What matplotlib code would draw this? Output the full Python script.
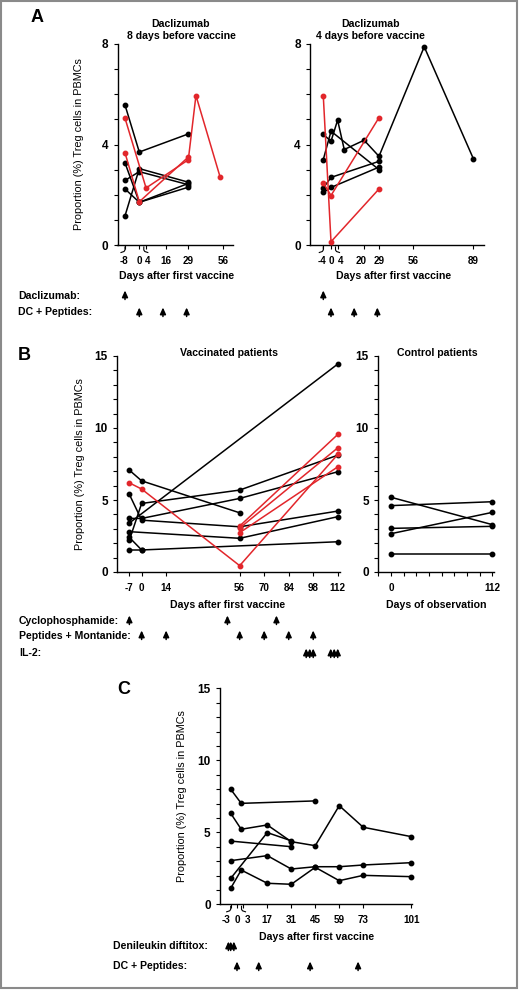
import numpy as np
import matplotlib
matplotlib.use("Agg")
import matplotlib.pyplot as plt
import matplotlib.transforms as mtransforms
from matplotlib.lines import Line2D
from matplotlib.patches import Rectangle
from matplotlib.ticker import MultipleLocator, FixedLocator

plt.rcParams['font.family'] = ['Liberation Sans', 'DejaVu Sans']
plt.rcParams['axes.unicode_minus'] = False

W, H = 520, 992
RED = '#e2262b'

# ---- Panel A, left: daclizumab 8 days before vaccine
a1_black_days = [[-8, 0, 29], [-8, 0, 29], [-8, 0, 29], [-8, 0, 29], [-8, 0, 29]]
a1_black_vals = [[5.57, 3.70, 4.42], [3.27, 1.70, 2.45], [2.57, 2.92, 2.40],
                 [2.23, 1.70, 2.30], [1.16, 3.04, 2.50]]
a1_red_days = [[-8, 4, 29, 35, 54], [-8, 0, 29]]
a1_red_vals = [[5.05, 2.27, 3.39, 5.95, 2.70], [3.67, 1.72, 3.50]]
a1_ticks = [-8, 0, 4, 16, 29, 56]

# ---- Panel A, right: daclizumab 4 days before vaccine
a2_black_days = [[-4, 0, 4, 8, 20, 29, 62, 89], [-4, 0, 29], [-4, 0, 29], [-4, 0, 29]]
a2_black_vals = [[4.40, 4.13, 4.97, 3.80, 4.17, 3.53, 7.89, 3.44],
                 [3.40, 4.53, 3.00], [2.27, 2.69, 3.33], [2.09, 2.29, 3.10]]
a2_red_days = [[-4, 0, 29], [-4, 0, 29]]
a2_red_vals = [[5.93, 0.13, 2.23], [2.47, 1.97, 5.07]]
a2_ticks = [-4, 0, 4, 20, 29, 56, 89]

# ---- Panel B, vaccinated patients
b1_black_days = [[-7, 0, 56], [-7, 0, 56, 112], [-7, 0, 56, 112], [-7, 0, 56, 112],
                 [-7, 56, 112], [-7, 112], [-7, 0, 112], [-7, 0]]
b1_black_vals = [[7.07, 6.33, 4.11], [5.39, 3.60, 3.14, 4.23], [2.22, 4.76, 5.69, 8.11],
                 [3.72, 3.72, 5.11, 6.96], [2.80, 2.34, 3.84], [3.40, 14.44],
                 [2.40, 1.53, 2.10], [1.53, 1.53]]
b1_red_days = [[-7, 0, 56, 112], [56, 112], [56, 112], [56, 112]]
b1_red_vals = [[6.19, 5.76, 0.44, 8.16], [3.19, 9.55], [3.05, 8.62], [2.73, 7.30]]
b1_ticks = [-7, 0, 14, 56, 70, 84, 98, 112]

# ---- Panel B, control patients
b2_days = [0, 112]
b2_vals = [[5.19, 3.29], [4.61, 4.88], [3.03, 3.17], [2.66, 4.14], [1.25, 1.25]]

# ---- Panel C, denileukin diftitox
c_days = [[-3, 2, 45], [-3, 2, 17, 31, 45, 59, 73, 101], [-3, 31], [-3, 17, 31],
          [-3, 17, 31, 45, 59, 73, 101], [-3, 2, 17, 31, 45, 59, 73, 101]]
c_vals = [[7.99, 7.01, 7.18], [6.32, 5.21, 5.51, 4.35, 4.07, 6.85, 5.35, 4.70],
          [4.39, 4.00], [1.80, 4.98, 4.41], [3.03, 3.38, 2.45, 2.61, 2.61, 2.73, 2.89],
          [1.11, 2.38, 1.46, 1.39, 2.57, 1.64, 2.01, 1.92]]
c_ticks = [-3, 0, 3, 17, 31, 45, 59, 73, 101]

# treatment schedules (days)
a1_dacl = [-8]
a2_dacl = [-4]
a_dc = [0, 14, 28]
b_cyclo = [-7, 49, 77]
b_montanide = [0, 14, 56, 70, 84, 98]
b_il2 = [94, 96, 98, 108, 110, 112]
c_denileukin = [-4.5, -3, -1.5]
c_dc = [0, 12, 42, 70]


def rect(x0, y0, x1, y1):
    return [x0 / W, 1 - y1 / H, (x1 - x0) / W, (y1 - y0) / H]


def ftext(x, y, s, **kw):
    kw.setdefault('ha', 'center')
    kw.setdefault('va', 'center')
    fig.text(x / W, 1 - y / H, s, **kw)


def piecewise(days, pos):
    def fwd(x):
        return np.interp(x, days, pos)

    def inv(y):
        return np.interp(y, pos, days)
    return fwd, inv


def style(ax, ymax, ymajor):
    for s in ['top', 'right']:
        ax.spines[s].set_visible(False)
    for s in ['left', 'bottom']:
        ax.spines[s].set_linewidth(1.0)
    ax.set_ylim(0, ymax)
    ax.yaxis.set_major_locator(FixedLocator(ymajor))
    ax.yaxis.set_minor_locator(MultipleLocator(1))
    ax.tick_params(which='both', direction='out', length=3.2, width=0.8)
    ax.tick_params(axis='y', labelsize=8.5, pad=3.5)
    ax.tick_params(axis='x', labelsize=7.1, pad=4.4)
    for t in ax.get_yticklabels():
        t.set_fontweight('bold')


def set_xticks(ax, ticks, shifts=None):
    # tick marks at the days; some labels nudged sideways (px) as in the original
    # (call after style(): tick_params resets the label transforms)
    ax.set_xticks(ticks)
    ax.set_xticklabels([str(t) for t in ticks], fontweight='bold')
    shifts = shifts or {}
    for t, tick in zip(ticks, ax.xaxis.get_major_ticks()):
        if t in shifts:
            off = mtransforms.ScaledTranslation(shifts[t] / 100, 0, fig.dpi_scale_trans)
            tick.label1.set_transform(tick.label1.get_transform() + off)


def draw(ax, days_list, vals_list, color):
    for d, v in zip(days_list, vals_list):
        ax.plot(d, v, '-o', color=color, lw=1.1, ms=3.2, clip_on=False, zorder=3)


def arrows(ax, days, y_px, n_len=9):
    tr = mtransforms.blended_transform_factory(ax.transData, fig.transFigure)
    for d in days:
        ax.annotate('', xy=(d, 1 - (y_px - n_len / 2) / H), xytext=(d, 1 - (y_px + n_len / 2) / H),
                    xycoords=tr, textcoords=tr, annotation_clip=False,
                    arrowprops=dict(arrowstyle='-|>,head_length=0.55,head_width=0.25',
                                    color='black', lw=1.1, mutation_scale=7,
                                    shrinkA=0, shrinkB=0))


def hooks(ax, first_day, zero_day):
    # small axis-break marks under the x axis
    p1 = ax.transData.transform((first_day, 0.0))
    p2 = ax.transData.transform((zero_day, 0.0))
    v1 = [(0, -2), (0, -5), (-1, -6.5), (-4, -7.5)]
    v2 = [(4.5, -2), (4.5, -5), (5.5, -6.5), (8.5, -7.5)]
    for p, v in [(p1, v1), (p2, v2)]:
        fig.add_artist(Line2D([p[0] + a for a, b in v], [p[1] + b for a, b in v],
                              transform=mtransforms.IdentityTransform(), color='black', lw=0.8))


fig = plt.figure(figsize=(W / 100, H / 100), dpi=100)

# ---------------- Panel A left
ax = fig.add_axes(rect(117.5, 44, 233.3, 245))
f, i = piecewise([-12, -8, 0, 29, 56, 63], [117.5, 125, 139.3, 188.3, 222.7, 233.3])
ax.set_xscale('function', functions=(f, i))
ax.set_xlim(-12, 63)
style(ax, 8, [0, 4, 8])
set_xticks(ax, a1_ticks, {-8: -1, 4: 1.5})
draw(ax, a1_black_days, a1_black_vals, 'black')
draw(ax, a1_red_days, a1_red_vals, RED)
hooks(ax, -8, 0)
arrows(ax, a1_dacl, 295)
arrows(ax, a_dc, 312)

# ---------------- Panel A right
ax = fig.add_axes(rect(310, 44, 484, 245))
f, i = piecewise([-10, -4, 0, 29, 56, 89, 95], [310, 323.3, 331, 379, 413.3, 473.3, 484])
ax.set_xscale('function', functions=(f, i))
ax.set_xlim(-10, 95)
style(ax, 8, [0, 4, 8])
set_xticks(ax, a2_ticks, {-4: -1, 4: 3, 20: -3})
draw(ax, a2_black_days, a2_black_vals, 'black')
draw(ax, a2_red_days, a2_red_vals, RED)
hooks(ax, -4, 0)
arrows(ax, a2_dacl, 295)
arrows(ax, a_dc, 312)

ftext(181, 30, 'Daclizumab\n8 days before vaccine', fontsize=7.6, fontweight='bold', linespacing=1.15)
ftext(370, 30, 'Daclizumab\n4 days before vaccine', fontsize=7.6, fontweight='bold', linespacing=1.15)
ftext(177, 276, 'Days after first vaccine', fontsize=7.6, fontweight='bold')
ftext(394, 276, 'Days after first vaccine', fontsize=7.6, fontweight='bold')
ftext(79, 144, 'Proportion (%) Treg cells in PBMCs', fontsize=7.8, rotation=90)
ftext(18, 296, 'Daclizumab:', fontsize=7.6, fontweight='bold', ha='left')
ftext(18, 312, 'DC + Peptides:', fontsize=7.6, fontweight='bold', ha='left')
ftext(37, 18, 'A', fontsize=13, fontweight='bold')

# ---------------- Panel B left
ax = fig.add_axes(rect(117.3, 356, 340, 572))
ax.set_xlim(-13.9, 113.3)
style(ax, 15, [0, 5, 10, 15])
set_xticks(ax, b1_ticks)
draw(ax, b1_black_days, b1_black_vals, 'black')
draw(ax, b1_red_days, b1_red_vals, RED)
arrows(ax, b_cyclo, 620)
arrows(ax, b_montanide, 635)
arrows(ax, b_il2, 653)

# ---------------- Panel B right
ax = fig.add_axes(rect(378.3, 356, 493.5, 572))
ax.set_xlim(-14, 113.4)
ax.xaxis.set_minor_locator(MultipleLocator(14))
style(ax, 15, [0, 5, 10, 15])
set_xticks(ax, b2_days)
for v in b2_vals:
    ax.plot(b2_days, v, '-o', color='black', lw=1.1, ms=3.2, clip_on=False, zorder=3)

ftext(229, 353, 'Vaccinated patients', fontsize=7.6, fontweight='bold')
ftext(437, 353, 'Control patients', fontsize=7.6, fontweight='bold')
ftext(228, 605, 'Days after first vaccine', fontsize=7.6, fontweight='bold')
ftext(436, 605, 'Days of observation', fontsize=7.6, fontweight='bold')
ftext(80, 464, 'Proportion (%) Treg cells in PBMCs', fontsize=7.8, rotation=90)
ftext(19, 621, 'Cyclophosphamide:', fontsize=7.6, fontweight='bold', ha='left')
ftext(19, 636, 'Peptides + Montanide:', fontsize=7.6, fontweight='bold', ha='left')
ftext(19, 653, 'IL-2:', fontsize=7.6, fontweight='bold', ha='left')
ftext(24, 355, 'B', fontsize=13, fontweight='bold')

# ---------------- Panel C
ax = fig.add_axes(rect(220, 688.3, 412, 904.3))
f, i = piecewise([-10, -3, 3, 101, 101.5], [220, 230.7, 243.3, 411.2, 412])
ax.set_xscale('function', functions=(f, i))
ax.set_xlim(-10, 101.5)
style(ax, 15, [0, 5, 10, 15])
set_xticks(ax, c_ticks, {-3: -5, 3: 4})
draw(ax, c_days, c_vals, 'black')
hooks(ax, -3, 0)
arrows(ax, c_denileukin, 946)
arrows(ax, c_dc, 966)

ftext(317, 937, 'Days after first vaccine', fontsize=7.6, fontweight='bold')
ftext(182, 796, 'Proportion (%) Treg cells in PBMCs', fontsize=7.8, rotation=90)
ftext(113, 946, 'Denileukin diftitox:', fontsize=7.6, fontweight='bold', ha='left')
ftext(113, 966, 'DC + Peptides:', fontsize=7.6, fontweight='bold', ha='left')
ftext(124, 690, 'C', fontsize=13, fontweight='bold')

# outer frame
fig.add_artist(Rectangle((1 / W, 1 - 987.5 / H), 515.5 / W, 986.5 / H, transform=fig.transFigure,
                         fill=False, edgecolor='#8a8a8a', lw=1.5))

fig.savefig('out.png', dpi=100)
plt.close(fig)
